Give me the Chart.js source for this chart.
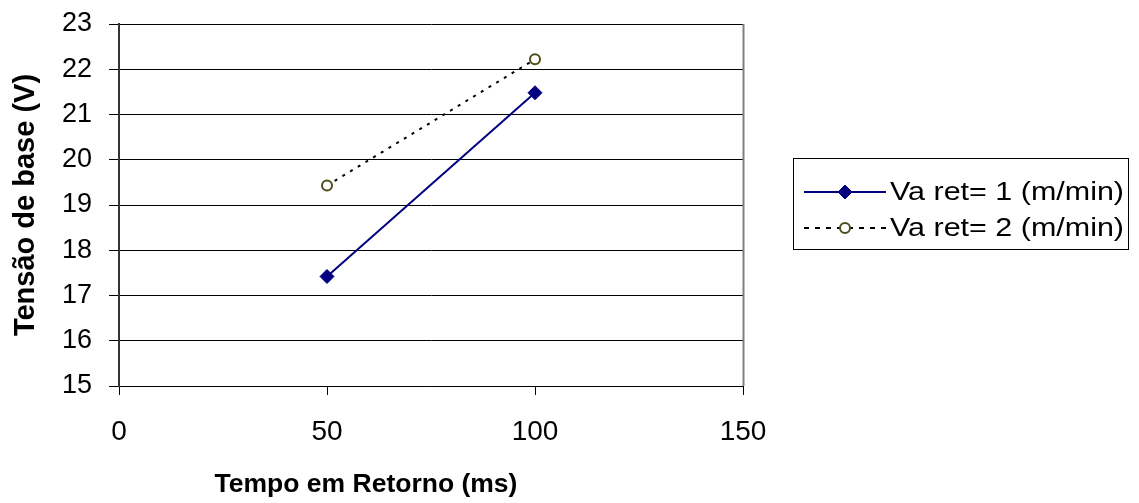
<!DOCTYPE html>
<html>
<head>
<meta charset="utf-8">
<script src="https://cdn.jsdelivr.net/npm/chart.js@4/dist/chart.umd.min.js"></script>
<style>
html,body{margin:0;padding:0;background:#fff;}
#wrap{width:1139px;height:503px;position:relative;}
</style>
</head>
<body>
<div id="wrap"><canvas id="c" width="1139" height="503"></canvas></div>
<script>
const xValues = [50, 100];
const series1Name = "Va ret= 1 (m/min)";
const series1 = [17.42, 21.48];
const series2Name = "Va ret= 2 (m/min)";
const series2 = [19.43, 22.22];
const xTicks = [0, 50, 100, 150];
const yTicks = [15, 16, 17, 18, 19, 20, 21, 22, 23];
const xTitle = "Tempo em Retorno (ms)";
const yTitle = "Tensão de base (V)";

const FONT = "'Liberation Sans', Arial, sans-serif";

const extrasPlugin = {
  id: 'extras',
  afterDraw(chart) {
    const ctx = chart.ctx;
    const ds = chart.data.datasets;
    const ca = chart.chartArea;
    ctx.save();
    // right border of plot area
    ctx.strokeStyle = '#808080';
    ctx.lineWidth = 2;
    ctx.beginPath();
    ctx.moveTo(ca.right + 0.5, ca.top);
    ctx.lineTo(ca.right + 0.5, ca.bottom);
    ctx.stroke();

    // x axis title
    ctx.fillStyle = '#000';
    ctx.font = "bold 26.5px " + FONT;
    ctx.textAlign = 'center';
    ctx.textBaseline = 'middle';
    ctx.fillText(xTitle, 366, 485);

    // legend
    const bx = 793.5, by = 158.5, bw = 335, bh = 91;
    ctx.strokeStyle = '#000';
    ctx.lineWidth = 1;
    ctx.strokeRect(bx, by, bw, bh);
    const rows = [192, 228];
    ctx.font = "25px " + FONT;
    ctx.textBaseline = 'middle';
    ctx.textAlign = 'left';
    ds.forEach((d, i) => {
      const y = rows[i];
      ctx.save();
      ctx.strokeStyle = d.borderColor;
      ctx.lineWidth = d.borderWidth;
      ctx.setLineDash(i === 1 ? [5, 6] : []);
      ctx.beginPath();
      ctx.moveTo(804, y);
      ctx.lineTo(886, y);
      ctx.stroke();
      ctx.restore();
      ctx.save();
      ctx.strokeStyle = d.pointBorderColor;
      ctx.fillStyle = d.pointBackgroundColor;
      ctx.lineWidth = d.pointBorderWidth;
      Chart.helpers.drawPoint(ctx, {
        pointStyle: d.pointStyle,
        radius: d.pointRadius,
        borderWidth: d.pointBorderWidth,
        rotation: 0
      }, 845, y);
      ctx.restore();
      ctx.save();
      ctx.fillStyle = '#000';
      const w = ctx.measureText(d.label).width;
      const sx = 234 / w;
      ctx.translate(890, y + 1);
      ctx.scale(sx, 1);
      ctx.fillText(d.label, 0, 0);
      ctx.restore();
    });
    ctx.restore();
  }
};

new Chart(document.getElementById('c'), {
  type: 'line',
  data: {
    datasets: [
      {
        label: series1Name,
        data: xValues.map((x, i) => ({x: x, y: series1[i]})),
        borderColor: '#000080',
        borderWidth: 2,
        pointStyle: 'rectRot',
        pointRadius: 7,
        pointBackgroundColor: '#000080',
        pointBorderColor: '#000080',
        pointBorderWidth: 1,
        tension: 0
      },
      {
        label: series2Name,
        data: xValues.map((x, i) => ({x: x, y: series2[i]})),
        borderColor: '#000000',
        borderWidth: 2,
        borderDash: [3, 6],
        pointStyle: 'circle',
        pointRadius: 5,
        pointBackgroundColor: '#ffffff',
        pointBorderColor: '#4d4d1a',
        pointBorderWidth: 2,
        tension: 0
      }
    ]
  },
  options: {
    responsive: false,
    animation: false,
    layout: { padding: { top: 24, right: 396, left: 0, bottom: 0 } },
    plugins: { legend: { display: false }, tooltip: { enabled: false } },
    scales: {
      x: {
        type: 'linear',
        min: xTicks[0],
        max: xTicks[xTicks.length - 1],
        afterBuildTicks: (axis) => { axis.ticks = xTicks.map(v => ({value: v})); },
        afterFit: (axis) => { axis.height = 117; axis.paddingLeft = 0; axis.paddingRight = 0; },
        grid: { drawOnChartArea: false, color: '#000', tickLength: 9, tickColor: '#000' },
        border: { display: true, color: '#000', width: 1 },
        ticks: { color: '#000', font: { family: FONT, size: 28 }, padding: 20, maxRotation: 0 },
        title: { display: false }
      },
      y: {
        type: 'linear',
        min: yTicks[0],
        max: yTicks[yTicks.length - 1],
        afterBuildTicks: (axis) => { axis.ticks = yTicks.map(v => ({value: v})); },
        afterFit: (axis) => { axis.width = 119; axis.paddingTop = 0; axis.paddingBottom = 0; },
        grid: { color: '#000', lineWidth: 1, tickLength: 10, tickColor: '#000' },
        border: { display: true, color: '#333', width: 2 },
        ticks: { color: '#000', font: { family: FONT, size: 27 }, padding: 17 },
        title: { display: true, text: yTitle, color: '#000', font: { family: FONT, size: 29, weight: 'bold' }, padding: { top: 9, bottom: 4 } }
      }
    }
  },
  plugins: [extrasPlugin]
});
</script>
</body>
</html>
